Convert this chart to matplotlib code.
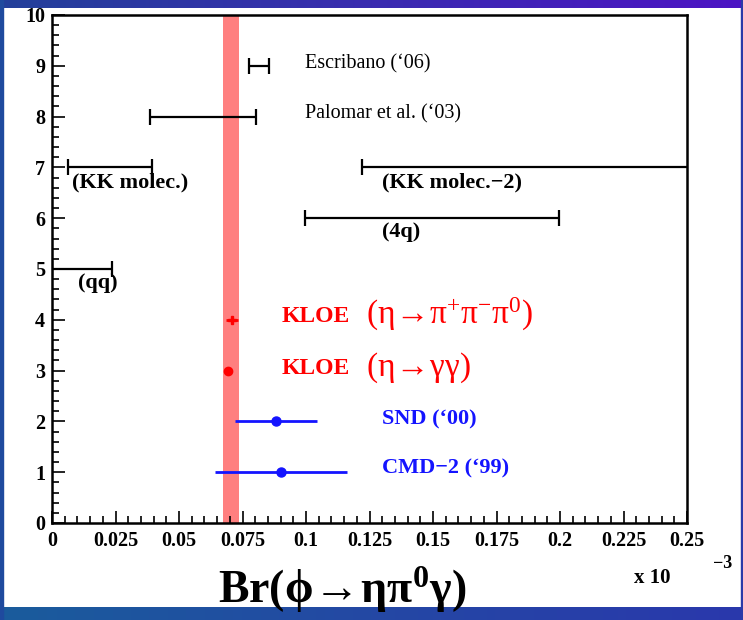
import numpy as np
import matplotlib
matplotlib.use('Agg')
import matplotlib.pyplot as plt
from matplotlib.ticker import MultipleLocator
from matplotlib.colors import LinearSegmentedColormap

plt.rcParams['font.family'] = ['Liberation Serif', 'DejaVu Serif']
plt.rcParams['mathtext.fontset'] = 'stix'
plt.rcParams['mathtext.default'] = 'regular'

ARROW = '$\\!{\\rightarrow}\\!$'

# theory predictions (intervals)
theory_labels = ['Escribano (\u201806)', 'Palomar et al. (\u201803)', '(KK molec.)',
                 '(KK molec.\u22122)', '(4q)', '(qq)']
theory_y = [9, 8, 7, 7, 6, 5]
theory_lo = [0.0776, 0.0386, 0.0063, 0.122, 0.0996, 0.0]
theory_hi = [0.0854, 0.0803, 0.0394, 0.30, 0.1996, 0.0236]

# measurements
exp_labels = ['KLOE', 'KLOE', 'SND (\u201800)', 'CMD\u22122 (\u201899)']
exp_decay = ['(\u03b7' + ARROW + '\u03c0$^{+}$\u03c0$^{\u2212}$\u03c0$^{0}$)',
             '(\u03b7' + ARROW + '\u03b3\u03b3)', '', '']
exp_y = [4, 3, 2, 1]
exp_val = [0.0709, 0.0693, 0.0882, 0.0900]
exp_err = [0.0025, 0.0010, 0.0160, 0.0260]
exp_colors = ['#ff0000', '#ff0000', '#1414ff', '#1414ff']

kloe_band = (0.0673, 0.0736)

W, H = 743, 620
fig = plt.figure(figsize=(W / 100, H / 100), dpi=100)

# slide frame
bg = fig.add_axes([0, 0, 1, 1], zorder=-10)
bg.set_xlim(0, W)
bg.set_ylim(H, 0)
bg.axis('off')
grad = np.linspace(0, 1, 256).reshape(1, -1)
top_cmap = LinearSegmentedColormap.from_list('t', ['#23409a', '#3a2cb0', '#4c14c4'])
bot_cmap = LinearSegmentedColormap.from_list('b', ['#1a5c9c', '#2448a4', '#2a38ac'])
bg.imshow(grad, cmap=top_cmap, extent=[0, W, 8, 0], aspect='auto')
bg.imshow(grad, cmap=bot_cmap, extent=[0, W, H, 607], aspect='auto')
bg.add_patch(plt.Rectangle((0, 0), 3, H, color='#1f4a9e'))
bg.add_patch(plt.Rectangle((W - 2, 0), 2, H, color='#2a3aa8'))

ax = fig.add_axes([52 / W, 1 - 523 / H, 635 / W, 508 / H])
ax.set_xlim(0, 0.25)
ax.set_ylim(0, 10)

ax.axvspan(kloe_band[0], kloe_band[1], color='#ff7f7f', lw=0, zorder=1)

for lab, y, lo, hi in zip(theory_labels, theory_y, theory_lo, theory_hi):
    c = (lo + hi) / 2
    ax.errorbar([c], [y], xerr=[[c - lo], [hi - c]], fmt='none', ecolor='black',
                elinewidth=1.6, capsize=6, capthick=1.6, zorder=3)

# theory labels
ax.text(0.0996, 9.04, theory_labels[0], fontsize=14.5, va='center', ha='left')
ax.text(0.0996, 8.05, theory_labels[1], fontsize=14.5, va='center', ha='left')
ax.text(0.0079, 6.71, theory_labels[2], fontsize=16, fontweight='bold', va='center', ha='left')
ax.text(0.130, 6.71, theory_labels[3], fontsize=16, fontweight='bold', va='center', ha='left')
ax.text(0.130, 5.73, theory_labels[4], fontsize=16, fontweight='bold', va='center', ha='left')
ax.text(0.0102, 4.72, theory_labels[5], fontsize=16, fontweight='bold', va='center', ha='left')

markers = ['P', 'o', 'o', 'o']
msizes = [6, 6, 6.5, 6.5]
for i in range(4):
    ax.errorbar([exp_val[i]], [exp_y[i]], xerr=[exp_err[i]], fmt=markers[i],
                color=exp_colors[i], ms=msizes[i], elinewidth=2, capsize=0, zorder=4)

# measurement labels
ax.text(0.0905, 4.07, exp_labels[0], fontsize=17, fontweight='bold', color=exp_colors[0],
        va='center', ha='left')
ax.text(0.1236, 4.1, exp_decay[0], fontsize=24, color=exp_colors[0], va='center', ha='left')
ax.text(0.0905, 3.05, exp_labels[1], fontsize=17, fontweight='bold', color=exp_colors[1],
        va='center', ha='left')
ax.text(0.1236, 3.05, exp_decay[1], fontsize=24, color=exp_colors[1], va='center', ha='left')
ax.text(0.130, 2.03, exp_labels[2], fontsize=16, fontweight='bold', color=exp_colors[2],
        va='center', ha='left')
ax.text(0.130, 1.08, exp_labels[3], fontsize=16, fontweight='bold', color=exp_colors[3],
        va='center', ha='left')

# axes style (ROOT-like)
ax.xaxis.set_major_locator(MultipleLocator(0.025))
ax.xaxis.set_minor_locator(MultipleLocator(0.005))
ax.yaxis.set_major_locator(MultipleLocator(1))
ax.yaxis.set_minor_locator(MultipleLocator(0.2))
ax.tick_params(which='both', direction='in', top=False, right=False, width=1.2)
ax.tick_params(which='major', length=9)
ax.tick_params(which='minor', length=5)
ax.tick_params(axis='x', pad=6)
ax.tick_params(axis='y', pad=5)
xt = [0, 0.025, 0.05, 0.075, 0.1, 0.125, 0.15, 0.175, 0.2, 0.225, 0.25]
ax.set_xticks(xt)
ax.set_xticklabels(['0', '0.025', '0.05', '0.075', '0.1', '0.125', '0.15', '0.175',
                    '0.2', '0.225', '0.25'])
for lbl in ax.get_xticklabels() + ax.get_yticklabels():
    lbl.set_fontsize(14.5)
    lbl.set_fontweight('bold')
for s in ax.spines.values():
    s.set_linewidth(1.8)

fig.text(342 / W, 1 - 590 / H, 'Br(\u03d5' + ARROW + '\u03b7\u03c0$^{0}$\u03b3)', fontsize=33,
         fontweight='bold', ha='center', va='center')
fig.text(652 / W, 1 - 578 / H, 'x 10', fontsize=15, fontweight='bold', ha='center', va='center')
fig.text(723 / W, 1 - 563 / H, '\u22123', fontsize=13, fontweight='bold', ha='center', va='center')

fig.savefig('out.png', dpi=100)
